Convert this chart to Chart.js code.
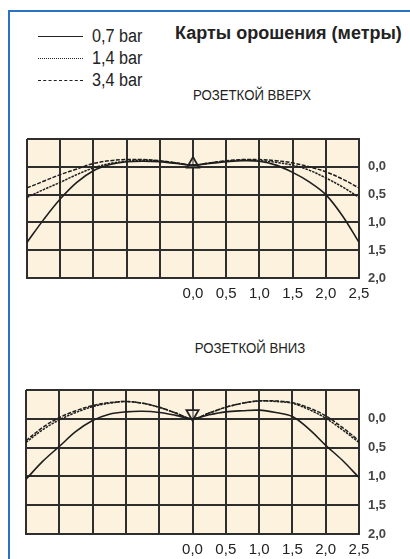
<!DOCTYPE html>
<html>
<head>
<meta charset="utf-8">
<script src="https://cdn.jsdelivr.net/npm/chart.js@4/dist/chart.umd.min.js"></script>
<style>
  html, body { margin:0; padding:0; background:#fff; }
  body { width:410px; height:559px; position:relative; overflow:hidden; font-family:"Liberation Sans", Arial, sans-serif; }
  .frame { position:absolute; left:8px; top:10px; width:410px; height:560px; border-top:2px solid #2b72c4; border-left:2px solid #2b72c4; }
  .leg { position:absolute; left:38px; width:130px; height:20px; }
  .leg .ln { position:absolute; left:0; top:10px; width:45px; border-top:1.5px solid #222; }
  .leg .tx { position:absolute; left:54px; top:0; font-size:18px; line-height:20px; color:#222; transform:scaleX(0.9); transform-origin:left center; white-space:nowrap; }
  .title { position:absolute; left:175px; top:23px; font-weight:bold; font-size:18px; line-height:20px; color:#222; white-space:nowrap; }
  .sub { position:absolute; width:200px; text-align:center; font-size:15px; line-height:18px; color:#222; white-space:nowrap; transform:scaleX(0.88); }
  .box { position:absolute; left:0; width:410px; }
</style>
</head>
<body>
<div class="frame"></div>
<div class="leg" style="top:26px"><div class="ln"></div><div class="tx">0,7 bar</div></div>
<div class="leg" style="top:48px"><div class="ln" style="border-top:1.5px dotted #222"></div><div class="tx">1,4 bar</div></div>
<div class="leg" style="top:70px"><div class="ln" style="border-top:1.5px dashed #222"></div><div class="tx">3,4 bar</div></div>
<div class="title">Карты орошения (метры)</div>
<div class="sub" style="left:152px; top:86px;">РОЗЕТКОЙ ВВЕРХ</div>
<div class="sub" style="left:150px; top:339px;">РОЗЕТКОЙ ВНИЗ</div>
<div class="box" style="top:130px; height:180px;"><canvas id="c1"></canvas></div>
<div class="box" style="top:380px; height:179px;"><canvas id="c2"></canvas></div>
<script>
// Distance from sprinkler (m)
const xPos = [-2.5,-2.25,-2,-1.75,-1.5,-1.25,-1,-0.75,-0.5,-0.25,0,0.25,0.5,0.75,1,1.25,1.5,1.75,2,2.25,2.5];
// Upward deflector (РОЗЕТКОЙ ВВЕРХ), height below nozzle (m)
const up07 = [1.36,0.95,0.58,0.28,0.07,-0.04,-0.09,-0.10,-0.09,-0.06,-0.03,-0.06,-0.09,-0.11,-0.10,-0.03,0.10,0.27,0.50,0.88,1.36];
const up14 = [0.55,0.41,0.28,0.14,0.02,-0.06,-0.10,-0.12,-0.10,-0.07,-0.03,-0.07,-0.10,-0.12,-0.11,-0.08,-0.03,0.06,0.20,0.36,0.55];
const up34 = [0.38,0.26,0.14,0.04,-0.06,-0.11,-0.13,-0.13,-0.11,-0.07,-0.03,-0.07,-0.11,-0.13,-0.13,-0.11,-0.07,0.00,0.09,0.22,0.38];
// Downward deflector (РОЗЕТКОЙ ВНИЗ)
const down07 = [1.05,0.74,0.48,0.22,0.03,-0.08,-0.12,-0.13,-0.11,-0.06,0.00,-0.07,-0.12,-0.14,-0.15,-0.11,-0.04,0.18,0.46,0.72,1.02];
const down14 = [0.41,0.19,0.02,-0.11,-0.21,-0.27,-0.30,-0.27,-0.20,-0.10,0.00,-0.10,-0.20,-0.27,-0.31,-0.30,-0.27,-0.16,-0.01,0.19,0.41];
const down34 = [0.38,0.15,-0.02,-0.14,-0.23,-0.28,-0.30,-0.27,-0.20,-0.10,0.00,-0.10,-0.20,-0.27,-0.31,-0.31,-0.28,-0.19,-0.05,0.15,0.38];
// Nozzle marker positions
const nozzleUp = [{x:0, y:-0.05}];
const nozzleDown = [{x:0, y:-0.09}];
const seriesNames = ['0,7 bar','1,4 bar','3,4 bar'];

const bgPlugin = {
  id:'bg',
  beforeDraw(chart){
    const a = chart.chartArea, ctx = chart.ctx;
    ctx.save(); ctx.fillStyle = '#fcf2de';
    ctx.fillRect(a.left, a.top, a.right-a.left, a.bottom-a.top);
    ctx.restore();
  }
};

function pts(arr){ return arr.map((v,i)=>({x:xPos[i], y:v})); }
function fmt(v){ return v.toFixed(1).replace('.', ','); }

function makeChart(id, s07, s14, s34, nozzle, rot, padLeft, padTop, xH){
  const lineBase = {borderColor:'#1e1e1e', pointRadius:0, tension:0.35, fill:false, showLine:true};
  new Chart(document.getElementById(id), {
    type:'scatter',
    data:{ datasets:[
      Object.assign({label:seriesNames[0], data:pts(s07), borderWidth:1.6}, lineBase),
      Object.assign({label:seriesNames[1], data:pts(s14), borderWidth:1.5, borderDash:[2.5,1]}, lineBase),
      Object.assign({label:seriesNames[2], data:pts(s34), borderWidth:1.5, borderDash:[4,1.5]}, lineBase),
      {label:'nozzle', data:nozzle, pointStyle:'triangle', rotation:rot, pointRadius:7, borderColor:'#222', backgroundColor:'rgba(252,242,222,0.5)', borderWidth:1.8, showLine:false}
    ]},
    options:{
      responsive:true, maintainAspectRatio:false, animation:false,
      layout:{ padding:{left:padLeft, top:padTop, right:0, bottom:0} },
      plugins:{ legend:{display:false}, tooltip:{enabled:false} },
      scales:{
        x:{ type:'linear', min:-2.5, max:2.5,
          afterFit(s){ s.height = xH; s.paddingLeft = 0; s.paddingRight = 0; },
          ticks:{ stepSize:0.5, autoSkip:false, maxRotation:0, padding:7, color:'#222',
            font:{family:'"Liberation Sans", Arial, sans-serif', size:15},
            callback:(v)=> v >= -0.001 ? fmt(Math.abs(v)) : '' },
          grid:{ color:'#2e2e2e', lineWidth:2, drawTicks:false },
          border:{ color:'#2e2e2e', width:2 } },
        y:{ type:'linear', position:'right', reverse:true, min:-0.5, max:2.0,
          afterFit(s){ s.width = 51; s.paddingTop = 0; s.paddingBottom = 0; },
          ticks:{ stepSize:0.5, padding:9, color:'#444',
            font:{family:'"Liberation Sans", Arial, sans-serif', size:13, weight:'bold'},
            callback:(v)=> v >= -0.001 ? fmt(Math.abs(v)) : '' },
          grid:{ color:'#2e2e2e', lineWidth:2, drawTicks:false },
          border:{ color:'#2e2e2e', width:2 } }
      }
    },
    plugins:[bgPlugin]
  });
}
makeChart('c1', up07, up14, up34, nozzleUp, 0, 27, 9, 32);
makeChart('c2', down07, down14, down34, nozzleDown, 180, 26, 10, 25);
</script>
</body>
</html>
